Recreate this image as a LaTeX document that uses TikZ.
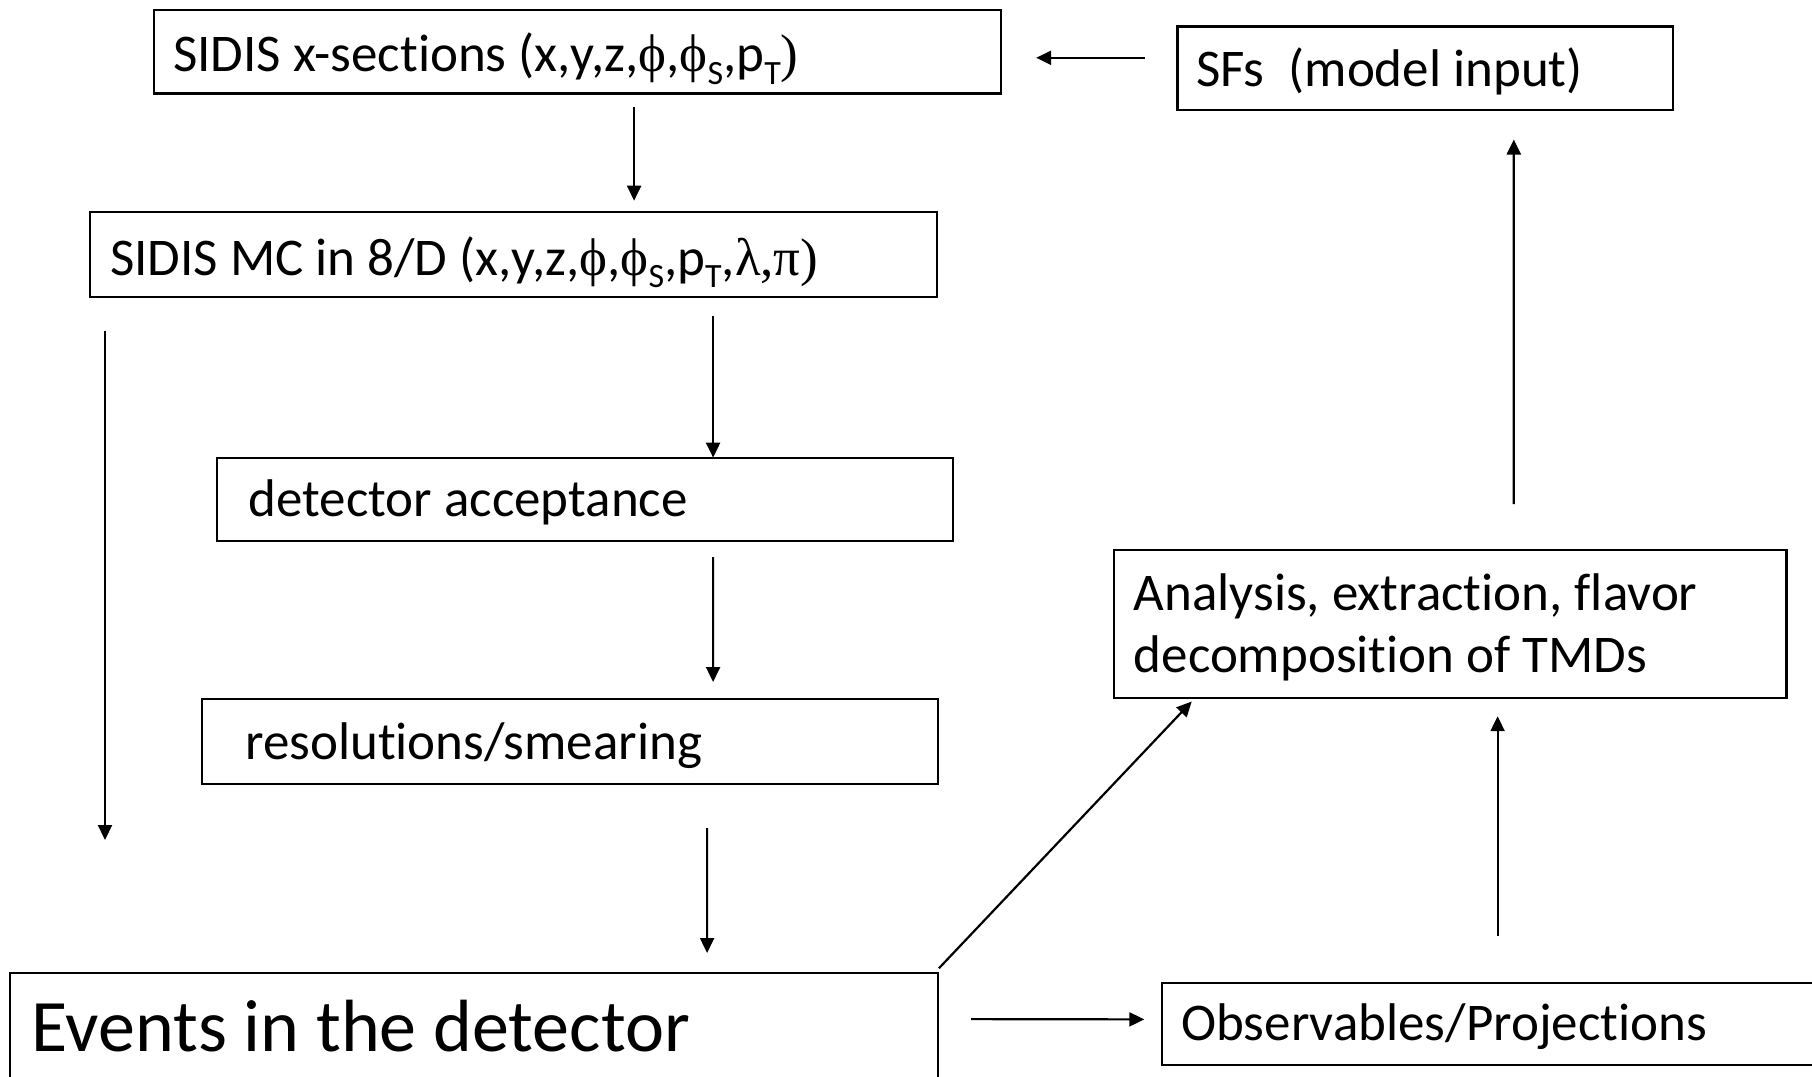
\documentclass[tikz,border=0pt]{standalone}
\usepackage{fontspec}
\setmainfont[Ligatures=NoCommon]{Carlito}
\newfontfamily\grk{Liberation Serif}
\usetikzlibrary{arrows.meta,calc}
\newcommand\lowsub[1]{\raisebox{-0.24em}{\fontsize{34}{34}\selectfont #1}}
% keep "t" and "i" as separate glyphs
\newcommand\tisep{t\kern0pt i}
\begin{document}
\begin{tikzpicture}[x=1pt,y=-1pt,
  box/.style={draw,line width=2.2pt,inner sep=0pt,anchor=north west},
  lbl/.style={anchor=base west,inner sep=0pt,font=\fontsize{53}{62}\selectfont},
  biglbl/.style={anchor=base west,inner sep=0pt,font=\fontsize{74}{80}\selectfont},
  arr/.style={line width=2.2pt,-{Triangle[length=15pt,width=14pt]}}]
\clip (0,0) rectangle (1812,1076);
\fill[white] (0,0) rectangle (1812,1076);

% boxes
\node[box,minimum width=847.1,minimum height=83.2] (b1) at (152.5,9.2) {};
\node[box,minimum width=847,minimum height=84.8] (b2) at (89,211) {};
\node[box,minimum width=736,minimum height=83.2] (b3) at (216,456.5) {};
\node[box,minimum width=735.7,minimum height=84.7] (b4) at (201,698) {};
\node[box,minimum width=927.5,minimum height=128.3] (b5) at (9.2,971.7) {};
\node[box,minimum width=495.6,minimum height=83.2] (b6) at (1176.4,25.4) {};
\node[box,minimum width=672.7,minimum height=147.7] (b7) at (1112.7,549) {};
\node[box,minimum width=679.3,minimum height=82.3] (b8) at (1160.7,981.7) {};

% texts
\node[lbl] (t1) at (173,71.6) {SIDIS x-sec\tisep{}ons (x,y,z,{\grk ϕ},{\grk ϕ}\lowsub{S},p\lowsub{T}{\grk )}};
\node[lbl] (t2) at (110,275) {SIDIS MC in 8/D (x,y,z,{\grk ϕ},{\grk ϕ}\lowsub{S},p\lowsub{T},{\grk λ,π)}};
\node[lbl] (t3) at (248.5,516.5) {detector acceptance};
\node[lbl] (t4) at (245,759) {resolu\tisep{}ons/smearing};
\node[biglbl] (t5) at (31,1051.6) {Events in the detector};
\node[lbl] (t6) at (1196,86.7) {SFs\ \ (model input)};
\node[lbl] (t7a) at (1133.6,610) {Analysis, extrac\tisep{}on, flavor};
\node[lbl] (t7b) at (1133.6,672.5) {decomposi\tisep{}on of TMDs};
\node[lbl] (t8) at (1181,1040) {Observables/Projec\tisep{}ons};

% connectors
\draw[arr] ($(b6.west)+(-31.4,-10.3)$) -- ($(b1.east)+(34.4,5.9)$);
\draw[arr] ($(b1.south)+(56.95,12.6)$) -- ($(b2.north)+(120.5,-10.3)$);
\draw[arr] ($(b2.south west)+(16,33.2)$) -- ($(b5.north west)+(95.8,-131.7)$);
\draw[arr] ($(b2.south)+(199.5,18.2)$) -- ($(b3.north)+(128,1.1)$);
\draw[arr] ($(b3.south)+(128,15.3)$) -- ($(b4.north)+(143.15,-16)$);
\draw[arr] ($(b4.south)+(137.15,43.3)$) -- ($(b5.north)+(233.05,-18.7)$);
\draw[arr] ($(b5.east)+(32.3,-17.85)$) -- ($(b8.west)+(-16.4,-4.55)$);
\draw[arr] ($(b5.north east)+(0,-3.4)$) -- ($(b7.south west)+(79,2.6)$);
\draw[arr] ($(b8.north)+(-3.85,-45.7)$) -- ($(b7.south)+(47.45,17.3)$);
\draw[arr] ($(b7.north)+(63.65,-45)$) -- ($(b6.south)+(88.5,28.7)$);
\end{tikzpicture}
\end{document}
